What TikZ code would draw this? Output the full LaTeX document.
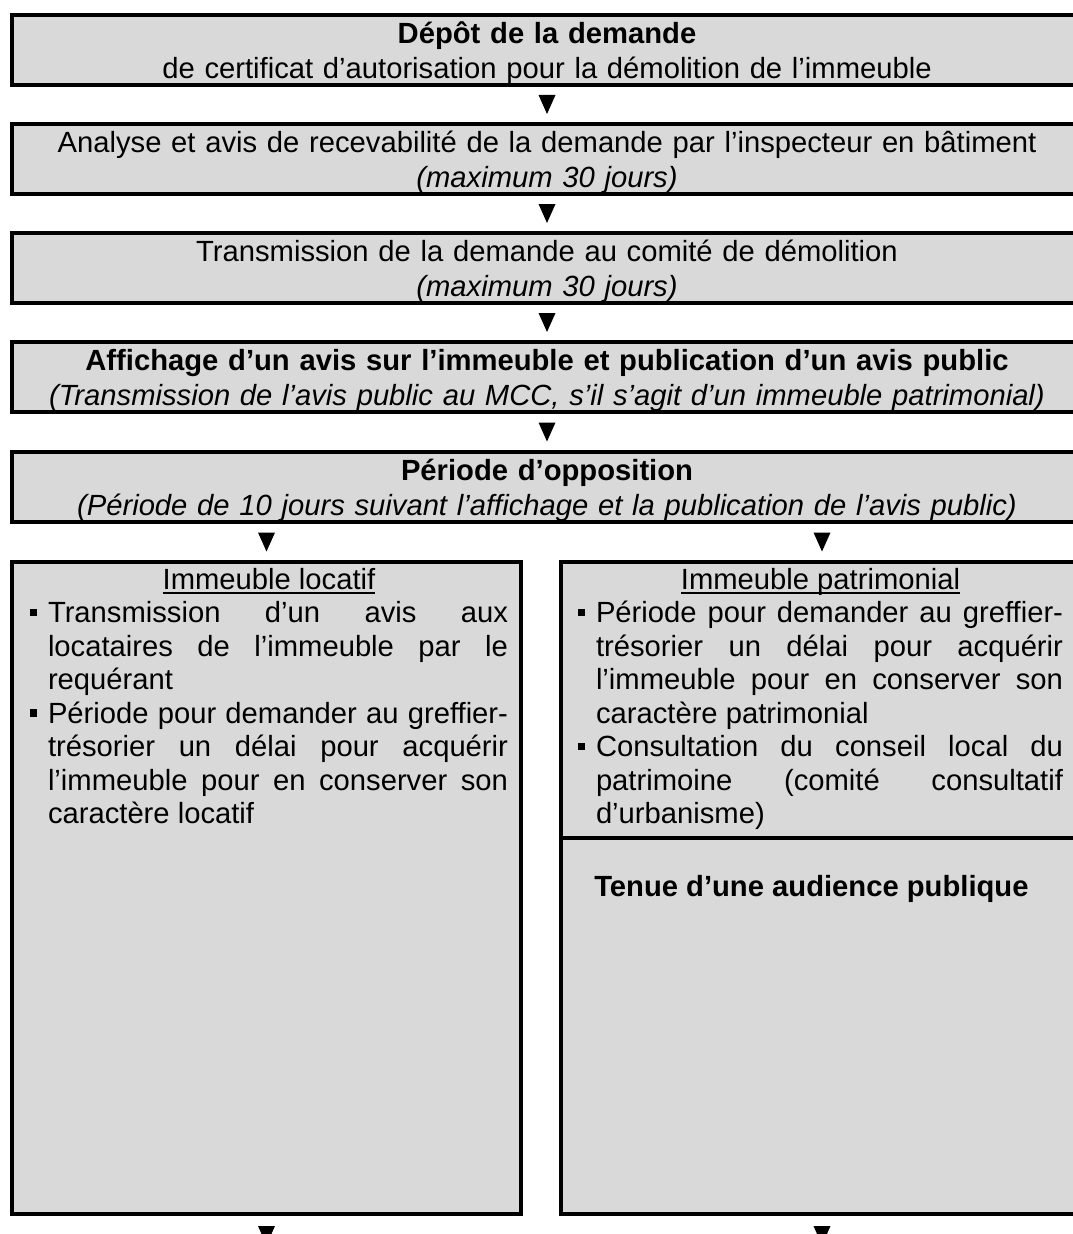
\documentclass[tikz,border=0pt]{standalone}
\usepackage{fontspec}
\setmainfont{Liberation Sans}
\usetikzlibrary{positioning,calc}
\definecolor{grisclair}{RGB}{217,217,217}
\tolerance=10000
\hyphenpenalty=10000
\newcommand{\puce}{\par\hangindent=13.5pt\hangafter=1\noindent\makebox[13.5pt][l]{\rule[5pt]{5.5pt}{5.5pt}}}
\newcommand{\souligne}[1]{\leavevmode\setbox0\hbox{#1}\rlap{\rule[-3.4pt]{\wd0}{1.4pt}}\box0}

\begin{document}
\begin{tikzpicture}[x=0.75pt,y=0.75pt,yscale=-1,xscale=1,
  etape/.style={draw, line width=3pt, fill=grisclair, inner sep=0pt, minimum width=802.5pt, minimum height=52.5pt, text width=790pt, text height=20pt, text depth=30pt, align=center, font=\fontsize{21.9}{26.25}\selectfont},
  cadre/.style={draw, line width=3pt, fill=grisclair, inner sep=0pt},
  liste/.style={inner sep=0pt, align=justify, anchor=north, font=\fontsize{21.9}{25.1}\selectfont},
  fleche/.pic={\fill (-8.5,9.5) -- (8.5,9.5) -- (0,-9.5) -- cycle;}]
\path[use as bounding box, clip] (0,0) rectangle (1073,1234);

% Etapes
\node[etape] (depot) at (547,50) {\textbf{Dépôt de la demande}\\ de certificat d’autorisation pour la démolition de l’immeuble};
\node[etape] (analyse) at (547,159) {Analyse et avis de recevabilité de la demande par l’inspecteur en bâtiment\\ \textit{(maximum 30 jours)}};
\node[etape] (transmission) at (547,268) {Transmission de la demande au comité de démolition\\ \textit{(maximum 30 jours)}};
\node[etape] (affichage) at (547,377) {\textbf{Affichage d’un avis sur l’immeuble et publication d’un avis public}\\ \textit{(Transmission de l’avis public au MCC, s’il s’agit d’un immeuble patrimonial)}};
\node[etape] (opposition) at (547,487) {\textbf{Période d’opposition}\\ \textit{(Période de 10 jours suivant l’affichage et la publication de l’avis public)}};

% Cadres du bas
\node[cadre, minimum width=381.75pt, minimum height=489pt] (locatif) at (266.5,888) {};
\node[cadre, minimum width=391.5pt, minimum height=207pt] (patrimonial) at (822,700) {};
\node[cadre, minimum width=391.5pt, minimum height=282pt] (audience) at (822,1026) {};

\node[liste, text width=358.5pt] (txtlocatif) at (269,568) {\centerline{\souligne{Immeuble locatif}}
\puce Transmission d’un avis aux\linebreak locataires de l’immeuble par le\linebreak requérant
\puce Période pour demander au greffier-\linebreak trésorier un délai pour acquérir\linebreak l’immeuble pour en conserver son\linebreak caractère locatif\par};
\node[liste, text width=363.75pt] (txtpatrimonial) at (820.5,568) {\centerline{\souligne{Immeuble patrimonial}}
\puce Période pour demander au greffier-\linebreak trésorier un délai pour acquérir\linebreak l’immeuble pour en conserver son\linebreak caractère patrimonial
\puce Consultation du conseil local du\linebreak patrimoine (comité consultatif\linebreak d’urbanisme)\par};
\node[inner sep=0pt, anchor=west, font=\fontsize{21.9}{25.1}\selectfont\bfseries] (tenue) at ($(audience.north west)+(35,53)$) {Tenue d’une audience publique};

% Fleches
\pic (f1) at ($(depot.south)!0.5!(analyse.north)$) {fleche};
\pic (f2) at ($(analyse.south)!0.5!(transmission.north)$) {fleche};
\pic (f3) at ($(transmission.south)!0.5!(affichage.north)$) {fleche};
\pic (f4) at ($(affichage.south)!0.5!(opposition.north)$) {fleche};
\pic (f5) at ($(opposition.south -| locatif.north)!0.5!(locatif.north)$) {fleche};
\pic (f6) at ($(opposition.south -| patrimonial.north)!0.5!(patrimonial.north)$) {fleche};
\pic (f7) at ($(locatif.south)+(0,19.5)$) {fleche};
\pic (f8) at ($(audience.south)+(0,19.5)$) {fleche};
\end{tikzpicture}
\end{document}
